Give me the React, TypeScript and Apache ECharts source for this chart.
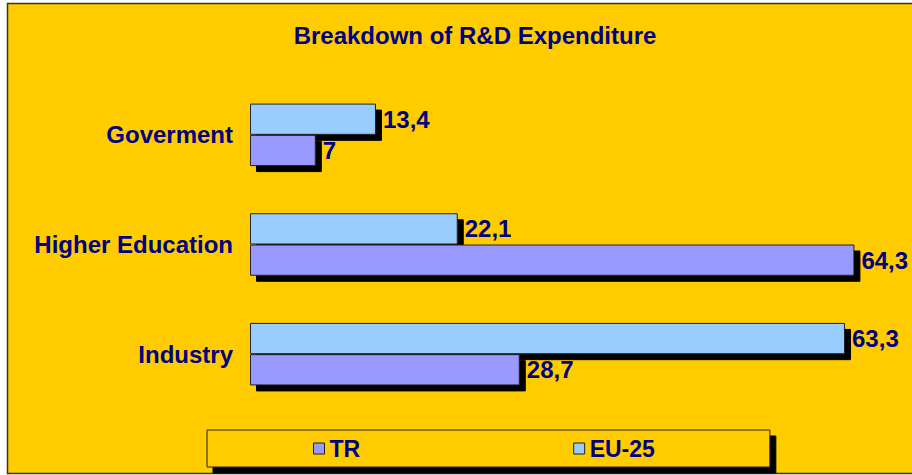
import React, { useEffect, useRef } from "react";
import * as echarts from "echarts";

const categories = ["Goverment", "Higher Education", "Industry"];
const seriesNames = ["TR", "EU-25"];
const trValues = [7, 64.3, 28.7];
const euValues = [13.4, 22.1, 63.3];
const titleText = "Breakdown of R&D Expenditure";

const NAVY = "#000080";
const FONT = "'Liberation Sans', Arial, sans-serif";

export default function App() {
  const ref = useRef<HTMLDivElement>(null);
  useEffect(() => {
    document.body.style.margin = "0";
    const chart = echarts.init(ref.current!, null, { renderer: "svg" });
    const fmt = (p: any) => String(p.value).replace(".", ",");
    const barStyle = (color: string) => ({
      color,
      borderColor: "#222",
      borderWidth: 1,
      shadowColor: "#000",
      shadowBlur: 0,
      shadowOffsetX: 6,
      shadowOffsetY: 6,
    });
    const label = {
      show: true,
      position: "right",
      distance: 7,
      color: NAVY,
      fontFamily: FONT,
      fontWeight: "bold",
      fontSize: 24,
    };
    chart.setOption({
      animation: false,
      backgroundColor: "#ffffff",
      graphic: [
        {
          type: "rect",
          z: -10,
          silent: true,
          shape: { x: 7.5, y: 3.5, width: 930, height: 470 },
          style: { fill: "#FFCC00", stroke: "#333", lineWidth: 1.5 },
        },
      ],
      title: {
        text: titleText,
        left: 470,
        textAlign: "center",
        top: 18,
        textStyle: { color: NAVY, fontFamily: FONT, fontWeight: "bold", fontSize: 24 },
      },
      legend: {
        data: seriesNames,
        left: 207,
        top: 430,
        orient: "horizontal",
        icon: "rect",
        itemWidth: 11,
        itemHeight: 11,
        itemGap: 213,
        padding: [7, 115, 7, 106],
        backgroundColor: "#FFCC00",
        borderColor: "#222",
        borderWidth: 1,
        shadowColor: "#000",
        shadowBlur: 0,
        shadowOffsetX: 6,
        shadowOffsetY: 6,
        itemStyle: { borderColor: "#222", borderWidth: 1 },
        textStyle: { color: NAVY, fontFamily: FONT, fontWeight: "bold", fontSize: 23 },
      },
      grid: { left: 250, top: 80, width: 658, height: 329, containLabel: false },
      xAxis: {
        type: "value",
        min: 0,
        max: 70,
        show: false,
      },
      yAxis: {
        type: "category",
        inverse: true,
        data: categories,
        axisLine: { show: false },
        axisTick: { show: false },
        splitLine: { show: false },
        axisLabel: { color: NAVY, fontFamily: FONT, fontWeight: "bold", fontSize: 24, margin: 17 },
      },
      series: [
        {
          name: "EU-25",
          type: "bar",
          data: euValues,
          barGap: "0%",
          barCategoryGap: "43%",
          itemStyle: barStyle("#99CCFF"),
          label: { ...label, formatter: fmt },
          z: 2,
        },
        {
          name: "TR",
          type: "bar",
          data: trValues,
          barGap: "0%",
          barCategoryGap: "43%",
          itemStyle: barStyle("#9999FF"),
          label: { ...label, formatter: fmt },
          z: 3,
        },
      ],
    });
    return () => chart.dispose();
  }, []);
  return <div ref={ref} style={{ width: 912, height: 475 }} />;
}
